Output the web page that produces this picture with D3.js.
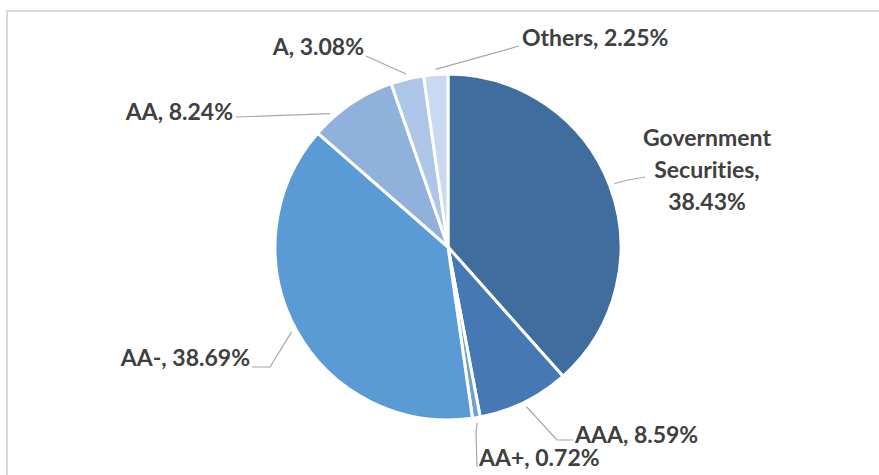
<!DOCTYPE html>
<html>
<head>
<meta charset="utf-8">
<script src="https://cdn.jsdelivr.net/npm/d3@7"></script>
<style>
  html, body { margin: 0; padding: 0; background: #fff; }
  svg { display: block; }
  .lbl { font-family: Lato, "Open Sans", sans-serif; font-weight: 700; fill: #404040; font-variant-ligatures: none; }
</style>
</head>
<body>
<svg id="chart" width="879" height="475"></svg>
<script>
// Portfolio composition by rating
const categories = ["Government Securities", "AAA", "AA+", "AA-", "AA", "A", "Others"];
const shares = [38.43, 8.59, 0.72, 38.69, 8.24, 3.08, 2.25];
const colors = ["#3f6e9e", "#4678b4", "#6e9fd6", "#5b9bd5", "#8fb1dc", "#adc6e7", "#c9d9ef"];

// label placement: lines of text, anchor point, alignment, leader path (from text toward slice),
// and where along the slice's arc the leader touches (0 = start, 1 = end)
const labelLayout = {
  "Government Securities": { lines: ["Government", "Securities,", "38.43%"], x: 707, y: 146, anchor: "middle", leader: [[645, 177], [628, 180]], at: 0.5 },
  "AAA":  { lines: ["AAA, 8.59%"], x: 575, y: 443, anchor: "start", leader: [[573, 440], [557, 440]], at: 0.5 },
  "AA+":  { lines: ["AA+, 0.72%"], x: 479, y: 466, anchor: "start", leader: [[477, 467], [476, 432]], at: 0.5 },
  "AA-":  { lines: ["AA-, 38.69%"], x: 250, y: 366, anchor: "end", leader: [[252, 367], [270, 367]], at: 0.5 },
  "AA":   { lines: ["AA, 8.24%"], x: 233, y: 120, anchor: "end", leader: [[236, 117]], at: 0.25 },
  "A":    { lines: ["A, 3.08%"], x: 364, y: 55, anchor: "end", leader: [[366, 56]], at: 0.5 },
  "Others": { lines: ["Others, 2.25%"], x: 522, y: 46, anchor: "start", leader: [[519, 46]], at: 0.5 }
};

const svg = d3.select("#chart");

// outer frame
svg.append("rect")
  .attr("x", 7).attr("y", 11).attr("width", 900).attr("height", 500)
  .attr("fill", "none").attr("stroke", "#d9d9d9").attr("stroke-width", 2);

const cx = 448, cy = 247, r = 173;
const data = categories.map((c, i) => ({ name: c, value: shares[i], color: colors[i] }));

const pie = d3.pie().value(d => d.value).sort(null);
const arcs = pie(data);
const arc = d3.arc().innerRadius(0).outerRadius(r);

const g = svg.append("g").attr("transform", `translate(${cx},${cy})`);
g.selectAll("path.slice")
  .data(arcs)
  .join("path")
  .attr("class", "slice")
  .attr("d", arc)
  .attr("fill", d => d.data.color)
  .attr("stroke", "#fff")
  .attr("stroke-width", 3)
  .attr("stroke-linejoin", "round");

// leader lines end just outside the slice
arcs.forEach(a => {
  const L = labelLayout[a.data.name];
  const ang = a.startAngle + (a.endAngle - a.startAngle) * L.at;
  const ex = Math.sin(ang) * (r + 5), ey = -Math.cos(ang) * (r + 5);
  const pts = L.leader.concat([[cx + ex, cy + ey]]);
  svg.append("path")
    .attr("d", d3.line()(pts))
    .attr("fill", "none")
    .attr("stroke", "#a6a6a6")
    .attr("stroke-width", 1.2);

  const t = svg.append("text")
    .attr("class", "lbl")
    .attr("x", L.x).attr("y", L.y)
    .attr("text-anchor", L.anchor)
    .style("font-size", "23px");
  L.lines.forEach((s, i) => {
    t.append("tspan").attr("x", L.x).attr("dy", i === 0 ? 0 : 32).text(s);
  });
});
</script>
</body>
</html>
